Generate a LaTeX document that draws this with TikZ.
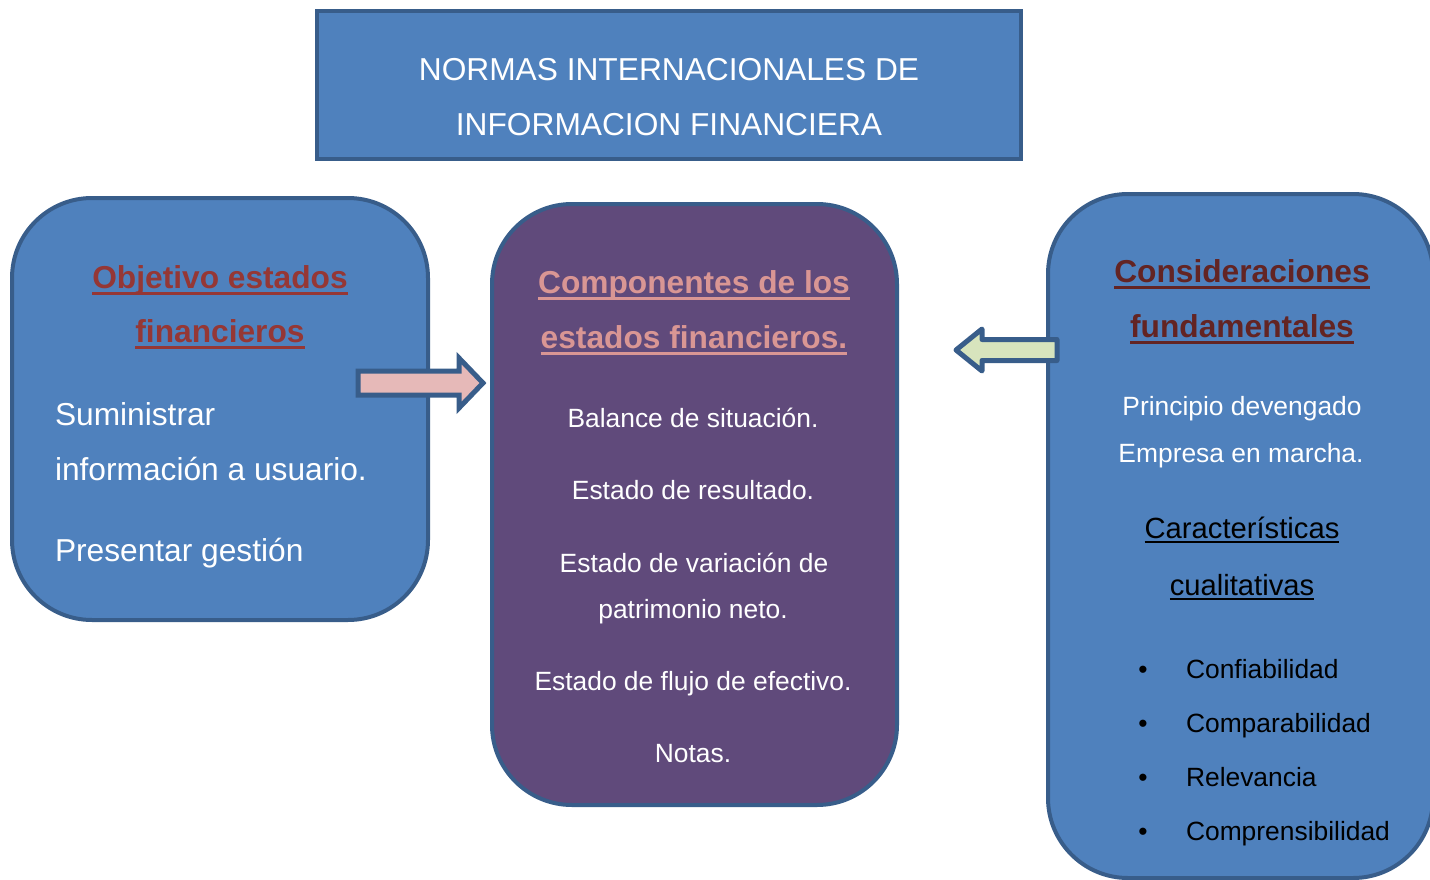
\documentclass[tikz,border=0pt]{standalone}
\usepackage{fontspec}
\setmainfont{Liberation Sans}
\definecolor{boxblue}{HTML}{4F81BD}
\definecolor{edgeblue}{HTML}{385D8A}
\definecolor{boxpurple}{HTML}{604A7B}
\definecolor{pinkfill}{HTML}{E6B9B8}
\definecolor{greenfill}{HTML}{D7E4BD}
\definecolor{hdred}{HTML}{953735}
\definecolor{hdpink}{HTML}{D99694}
\definecolor{hdmaroon}{HTML}{632423}
\newcommand\myuline[3]{\setbox0\hbox{#3}\makebox[0pt][l]{\rule[-#1]{\wd0}{#2}}\box0}
\newcommand\bigsz{\fontsize{31.7}{38}\selectfont}
\newcommand\midsz{\fontsize{29.2}{35}\selectfont}
\newcommand\smsz{\fontsize{26.4}{32}\selectfont}
\tikzset{
  panel/.style={fill=boxblue,draw=edgeblue,line width=4pt},
  blockarrow/.style={draw=edgeblue,line width=5pt},
  txt/.style={inner sep=0pt,outer sep=0pt,anchor=base},
  ltxt/.style={inner sep=0pt,outer sep=0pt,anchor=base west},
}
\begin{document}
\begin{tikzpicture}[x=1pt,y=-1pt]
\useasboundingbox (0,0) rectangle (1430,880);
% title box
\draw[fill=boxblue,draw=edgeblue,line width=3.5pt] (317,11) rectangle (1021,159);
\node[txt,text=white] (t1) at (669,81) {\bigsz NORMAS INTERNACIONALES DE};
\node[txt,text=white] (t2) at (669,136) {\bigsz INFORMACION FINANCIERA};
% left box
\draw[panel,rounded corners=80pt] (12,198) rectangle (428,620);
% center box
\draw[panel,fill=boxpurple,rounded corners=80pt] (492,204) rectangle (897,805);
% right box (cut off by page edge)
\begin{scope}
\clip (0,0) rectangle (1430,880);
\draw[panel,rounded corners=80pt] (1048,194) rectangle (1433,878);
\end{scope}
% arrows
\draw[blockarrow,fill=pinkfill,line join=miter] (358,371) -- (459,371) -- (459,358) -- (483,383) -- (459,408) -- (459,395) -- (358,395) -- cycle;
\draw[blockarrow,fill=greenfill,line join=round] (1057,339.5) -- (982,339.5) -- (982,329) -- (956,350) -- (982,371) -- (982,360.5) -- (1057,360.5) -- cycle;
% left texts
\node[txt,text=hdred] (l1) at (220,288) {\bigsz\bfseries\myuline{6.5pt}{3pt}{Objetivo estados}};
\node[txt,text=hdred] (l2) at (220,342) {\bigsz\bfseries\myuline{6.5pt}{3pt}{financieros}};
\node[ltxt,text=white] (l3) at (55,425) {\bigsz Suministrar};
\node[ltxt,text=white] (l4) at (55,480) {\bigsz información a usuario.};
\node[ltxt,text=white] (l5) at (55,561) {\bigsz Presentar gestión};
% center texts
\node[txt,text=hdpink] (c1) at (694,293) {\bigsz\bfseries\myuline{6.5pt}{3pt}{Componentes de los}};
\node[txt,text=hdpink] (c2) at (694,348) {\bigsz\bfseries\myuline{6.5pt}{3pt}{estados financieros.}};
\node[txt,text=white] (c3) at (693,427) {\smsz Balance de situación.};
\node[txt,text=white] (c4) at (693,499) {\smsz Estado de resultado.};
\node[txt,text=white] (c5) at (694,572) {\smsz Estado de variación de};
\node[txt,text=white] (c6) at (693,618) {\smsz patrimonio neto.};
\node[txt,text=white] (c7) at (693,690) {\smsz Estado de flujo de efectivo.};
\node[txt,text=white] (c8) at (693,762) {\smsz Notas.};
% right texts
\node[txt,text=hdmaroon] (r1) at (1242,282) {\bigsz\bfseries\myuline{6.5pt}{3pt}{Consideraciones}};
\node[txt,text=hdmaroon] (r2) at (1242,337) {\bigsz\bfseries\myuline{6.5pt}{3pt}{fundamentales}};
\node[txt,text=white] (r3) at (1242,415) {\smsz Principio devengado};
\node[txt,text=white] (r4) at (1241,462) {\smsz Empresa en marcha.};
\node[txt,text=black] (r5) at (1242,538) {\midsz\myuline{5pt}{2pt}{Características}};
\node[txt,text=black] (r6) at (1242,595) {\midsz\myuline{5pt}{2pt}{cualitativas}};
\node[txt] (b1) at (1143,678) {\smsz\textbullet};
\node[txt] (b2) at (1143,732) {\smsz\textbullet};
\node[txt] (b3) at (1143,786) {\smsz\textbullet};
\node[txt] (b4) at (1143,840) {\smsz\textbullet};
\node[ltxt] (i1) at (1186,678) {\smsz Confiabilidad};
\node[ltxt] (i2) at (1186,732) {\smsz Comparabilidad};
\node[ltxt] (i3) at (1186,786) {\smsz Relevancia};
\node[ltxt] (i4) at (1186,840) {\smsz Comprensibilidad};
\end{tikzpicture}
\end{document}
